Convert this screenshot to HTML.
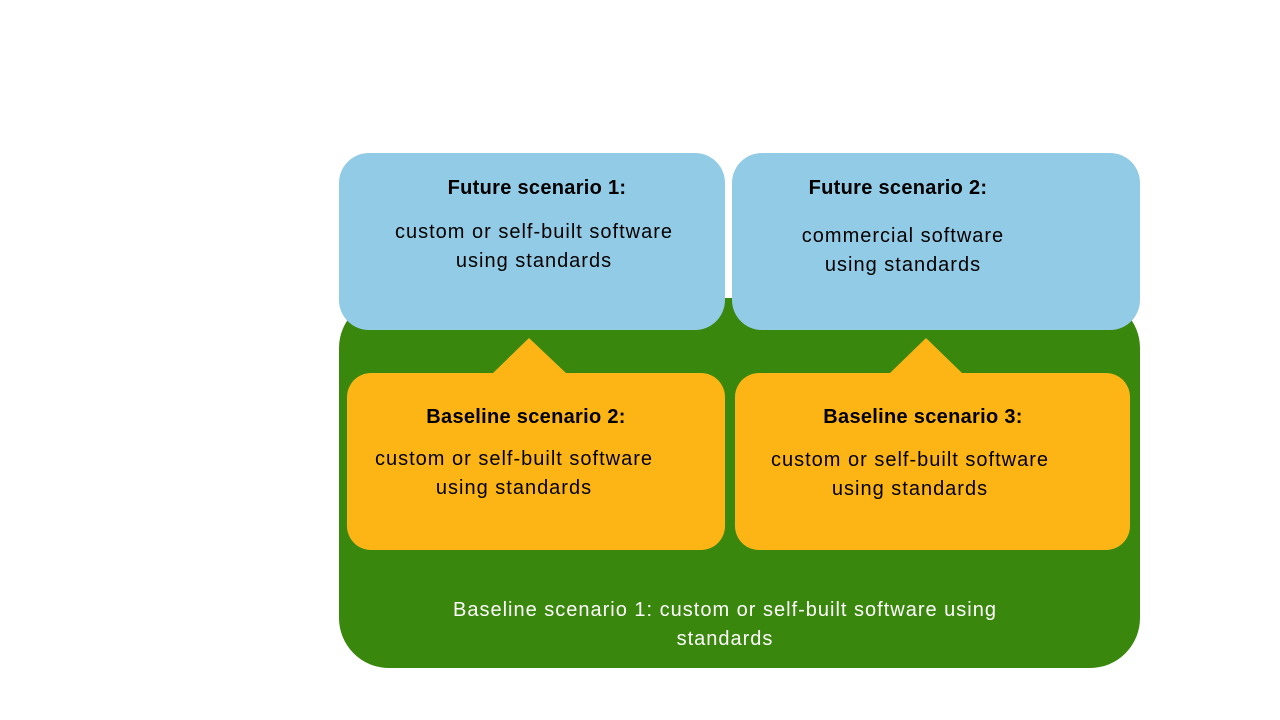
<!DOCTYPE html>
<html><head><style>
body{margin:0;width:1280px;height:720px;background:#fff;position:relative;font-family:"Liberation Sans",sans-serif;overflow:hidden}
.b{position:absolute;box-sizing:border-box}
.t{position:absolute;white-space:nowrap;font-size:20px;letter-spacing:1px;color:#000;text-align:center;line-height:29px}
</style></head><body>
<div class="b" style="left:339px;top:298px;width:801px;height:370px;background:#3a870d;border-radius:50px"></div>
<div class="b" style="left:339px;top:153px;width:386px;height:177px;background:#92cbe5;border-radius:30px"></div>
<div class="b" style="left:732px;top:153px;width:408px;height:177px;background:#92cbe5;border-radius:30px"></div>
<svg class="b" style="left:0;top:0" width="1280" height="720">
<polygon points="492,374 529,338 567,374" fill="#fdb515"/>
<polygon points="890,373 926,338 962,373" fill="#fdb515"/>
</svg>
<div class="b" style="left:347px;top:373px;width:378px;height:177px;background:#fdb515;border-radius:24px"></div>
<div class="b" style="left:735px;top:373px;width:395px;height:177px;background:#fdb515;border-radius:24px"></div>
<div class="t" style="left:417px;top:174px;width:240px;font-weight:bold;letter-spacing:0.3px">Future scenario 1:</div>
<div class="t" style="left:354px;top:218px;width:360px">custom or self-built software<br>using standards</div>
<div class="t" style="left:778px;top:174px;width:240px;font-weight:bold;letter-spacing:0.3px">Future scenario 2:</div>
<div class="t" style="left:723px;top:222px;width:360px">commercial software<br>using standards</div>
<div class="t" style="left:386px;top:403px;width:280px;font-weight:bold;letter-spacing:0.3px">Baseline scenario 2:</div>
<div class="t" style="left:334px;top:445px;width:360px">custom or self-built software<br>using standards</div>
<div class="t" style="left:783px;top:403px;width:280px;font-weight:bold;letter-spacing:0.3px">Baseline scenario 3:</div>
<div class="t" style="left:730px;top:446px;width:360px">custom or self-built software<br>using standards</div>
<div class="t" style="left:375px;top:596px;width:700px;color:#fff">Baseline scenario 1: custom or self-built software using<br>standards</div>
</body></html>
